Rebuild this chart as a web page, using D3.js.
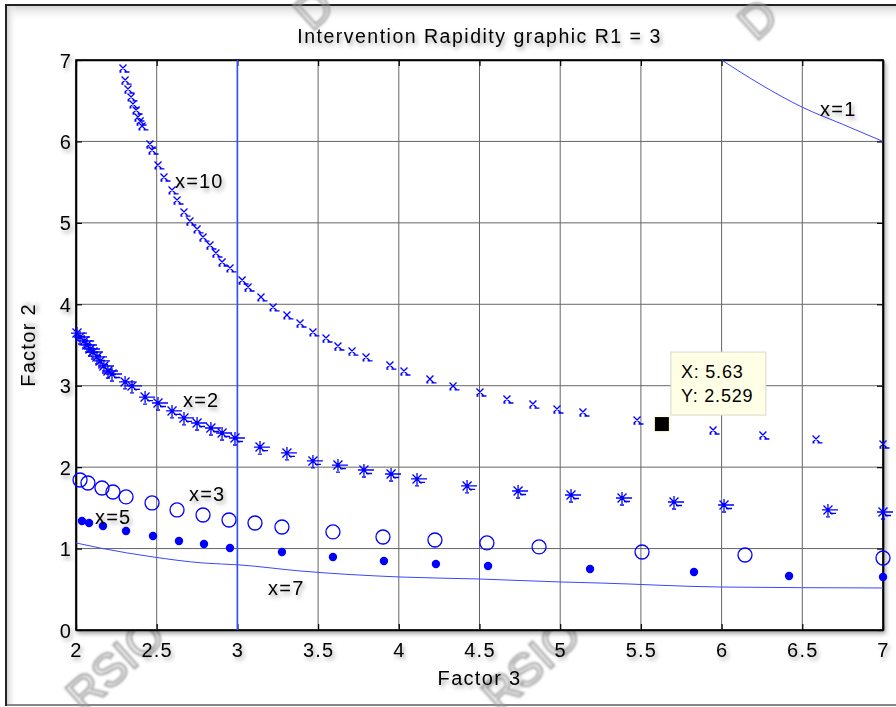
<!DOCTYPE html>
<html><head><meta charset="utf-8">
<script src="https://cdn.jsdelivr.net/npm/d3@7"></script>
<style>body{margin:0;background:#fff}svg{display:block}</style>
</head><body>
<svg id="c" width="896" height="707"></svg>
<script>
// ---------- data ----------
const xTicks = [2, 2.5, 3, 3.5, 4, 4.5, 5, 5.5, 6, 6.5, 7];
const yTicks = [0, 1, 2, 3, 4, 5, 6, 7];
const xTickLabels = ["2","2.5","3","3.5","4","4.5","5","5.5","6","6.5","7"];
const yTickLabels = ["0","1","2","3","4","5","6","7"];

// x=10 (cross markers)
const seriesX10 = [[2.291,6.902],[2.304,6.754],[2.322,6.644],[2.341,6.546],[2.353,6.460],[2.372,6.386],[2.384,6.300],[2.397,6.251],[2.409,6.190],[2.458,5.968],[2.471,5.895],[2.508,5.711],[2.545,5.563],[2.595,5.404],[2.626,5.281],[2.669,5.133],[2.706,5.023],[2.750,4.925],[2.787,4.826],[2.830,4.728],[2.867,4.630],[2.905,4.519],[2.954,4.446],[3.029,4.298],[3.066,4.212],[3.146,4.090],[3.221,3.967],[3.307,3.869],[3.388,3.770],[3.468,3.660],[3.549,3.586],[3.623,3.488],[3.710,3.426],[3.797,3.353],[3.945,3.254],[4.032,3.181],[4.193,3.083],[4.336,2.997],[4.503,2.923],[4.670,2.837],[4.831,2.775],[4.980,2.714],[5.141,2.677],[5.476,2.579],[5.947,2.456],[6.256,2.395],[6.585,2.346],[7.0,2.284]];
// x=2 (asterisk markers)
const seriesX2 = [[2.006,3.647],[2.025,3.598],[2.050,3.549],[2.068,3.500],[2.087,3.451],[2.105,3.414],[2.130,3.353],[2.149,3.304],[2.173,3.242],[2.198,3.181],[2.223,3.144],[2.304,3.046],[2.347,2.997],[2.428,2.861],[2.508,2.788],[2.595,2.690],[2.669,2.604],[2.750,2.542],[2.836,2.481],[2.905,2.419],[2.985,2.358],[3.140,2.247],[3.307,2.174],[3.468,2.076],[3.623,2.026],[3.784,1.965],[3.952,1.916],[4.113,1.855],[4.423,1.769],[4.739,1.707],[5.067,1.658],[5.383,1.621],[5.705,1.572],[6.015,1.535],[6.659,1.474],[7.0,1.449]];
// x=3 (open circles)
const seriesX3 = [[2.025,1.842],[2.074,1.805],[2.161,1.744],[2.229,1.695],[2.310,1.634],[2.471,1.560],[2.626,1.474],[2.787,1.412],[2.948,1.351],[3.109,1.314],[3.276,1.265],[3.592,1.204],[3.902,1.142],[4.224,1.105],[4.546,1.069],[4.869,1.020],[5.507,0.958],[6.145,0.921],[7.0,0.884]];
// x=5 (filled dots)
const seriesX5 = [[2.037,1.339],[2.081,1.314],[2.167,1.277],[2.310,1.216],[2.477,1.154],[2.638,1.093],[2.793,1.056],[2.954,1.007],[3.276,0.958],[3.592,0.897],[3.908,0.847],[4.230,0.811],[4.553,0.786],[5.185,0.749],[5.829,0.712],[6.418,0.663],[7.0,0.651]];
// x=7 (line)
const seriesX7 = [[2.0,1.069],[2.149,1.007],[2.477,0.897],[2.787,0.823],[3.016,0.799],[3.388,0.725],[4.007,0.651],[4.503,0.626],[4.999,0.590],[5.247,0.577],[5.990,0.528],[7.0,0.516]];
// x=1 (line)
const seriesX1 = [[6.0,7.0],[6.25,6.69],[6.5,6.42],[6.75,6.21],[7.0,6.0]];
// vertical line at Factor 3 = 3
const vLine = [[3,0],[3,7]];
// curve labels
const labels = [["x=10",2.613,5.51],["x=2",2.663,2.825],["x=3",2.700,1.670],["x=5",2.118,1.388],["x=7",3.190,0.516],["x=1",6.610,6.40]];
// data tip
const tip = {x:5.63, y:2.529};

// ---------- drawing ----------
const svg = d3.select("#c");
const FONT = "'Liberation Sans', Arial, Helvetica, sans-serif";
const defs = svg.append("defs");
const f = defs.append("filter").attr("id","sh").attr("x","-30%").attr("y","-30%").attr("width","170%").attr("height","180%");
f.append("feDropShadow").attr("dx",2).attr("dy",3).attr("stdDeviation",2).attr("flood-color","#000").attr("flood-opacity",0.35);
const fb = defs.append("filter").attr("id","blur");
fb.append("feGaussianBlur").attr("stdDeviation",0.9);
const gTop = defs.append("linearGradient").attr("id","gt").attr("x1",0).attr("y1",0).attr("x2",0).attr("y2",1);
gTop.append("stop").attr("offset","0").attr("stop-color","#d4d4d4");
gTop.append("stop").attr("offset","1").attr("stop-color","#fff").attr("stop-opacity",0);
const gLeft = defs.append("linearGradient").attr("id","gl").attr("x1",0).attr("y1",0).attr("x2",1).attr("y2",0);
gLeft.append("stop").attr("offset","0").attr("stop-color","#d4d4d4");
gLeft.append("stop").attr("offset","1").attr("stop-color","#fff").attr("stop-opacity",0);

// figure frame
svg.append("rect").attr("x",6).attr("y",5).attr("width",900).attr("height",700)
  .attr("fill","#fff").attr("stroke","#222").attr("stroke-width",2);
svg.append("rect").attr("x",7).attr("y",6).attr("width",889).attr("height",16).attr("fill","url(#gt)");
svg.append("rect").attr("x",7).attr("y",6).attr("width",10).attr("height",698).attr("fill","url(#gl)");
svg.append("line").attr("x1",7).attr("x2",896).attr("y1",705).attr("y2",705).attr("stroke","#aaa").attr("stroke-width",1.5);

// watermark (behind the chart content)
const wm = svg.append("g").attr("filter","url(#blur)").attr("font-family",FONT)
  .attr("font-size",46).attr("fill","none").attr("stroke","#9a9a9a").attr("stroke-width",2.4).attr("opacity",0.8);
[[84,714,"RSIO"],[500,714,"RSIO"],[312,32,"D"],[756,42,"D"]].forEach(d=>{
  wm.append("text").attr("transform",`translate(${d[0]},${d[1]}) rotate(-42)`).text(d[2]);
});

const x = d3.scaleLinear().domain([2,7]).range([76,883]);
const y = d3.scaleLinear().domain([0,7]).range([630,60]);

// plot area
svg.append("rect").attr("x",x(2)).attr("y",y(7)).attr("width",x(7)-x(2)).attr("height",y(0)-y(7))
  .attr("fill","#fff").attr("stroke","#000").attr("stroke-width",1.6).attr("filter","url(#sh)");

// grid
const grid = svg.append("g").attr("stroke","#666").attr("stroke-width",1);
grid.selectAll(".gx").data(xTicks.slice(1,-1)).join("line")
  .attr("x1",d=>x(d)).attr("x2",d=>x(d)).attr("y1",y(0)).attr("y2",y(7));
grid.selectAll(".gy").data(yTicks.slice(1,-1)).join("line")
  .attr("y1",d=>y(d)).attr("y2",d=>y(d)).attr("x1",x(2)).attr("x2",x(7));

// axes with inner ticks
const axB = svg.append("g").attr("transform",`translate(0,${y(0)})`)
  .call(d3.axisBottom(x).tickValues(xTicks).tickSizeInner(-6).tickSizeOuter(0).tickFormat((d,i)=>xTickLabels[i]));
const axT = svg.append("g").attr("transform",`translate(0,${y(7)})`)
  .call(d3.axisTop(x).tickValues(xTicks).tickSizeInner(-6).tickSizeOuter(0).tickFormat(""));
const axL = svg.append("g").attr("transform",`translate(${x(2)},0)`)
  .call(d3.axisLeft(y).tickValues(yTicks).tickSizeInner(-6).tickSizeOuter(0).tickFormat((d,i)=>yTickLabels[i]));
const axR = svg.append("g").attr("transform",`translate(${x(7)},0)`)
  .call(d3.axisRight(y).tickValues(yTicks).tickSizeInner(-6).tickSizeOuter(0).tickFormat(""));
[axB,axT,axL,axR].forEach(a=>{
  a.select(".domain").attr("stroke","#000").attr("stroke-width",1.6);
  a.selectAll(".tick line").attr("stroke","#000").attr("stroke-width",1.2);
  a.selectAll("text").attr("font-family",FONT).attr("font-size",20).attr("fill","#000")
    .attr("letter-spacing","1.2px").attr("filter","url(#sh)");
});
axB.selectAll("text").attr("dy",null).attr("y",null).attr("dominant-baseline","central")
  .attr("transform","translate(0,20)");
axL.selectAll("text").attr("dy",null).attr("x",-4).attr("dominant-baseline","central");

// lines
const line = d3.line().x(d=>x(d[0])).y(d=>y(d[1]));
svg.append("path").attr("d",line(vLine)).attr("stroke","#2f4fff").attr("stroke-width",1.6).attr("fill","none");
svg.append("path").attr("d",line.curve(d3.curveMonotoneX)(seriesX7)).attr("stroke","#3a46ff").attr("stroke-width",1).attr("fill","none");
svg.append("path").attr("d",line.curve(d3.curveMonotoneX)(seriesX1)).attr("stroke","#3a46ff").attr("stroke-width",1).attr("fill","none");

// markers
const BLUE = "#0000ff";
svg.append("g").selectAll("path").data(seriesX10).join("path")
  .attr("transform",d=>`translate(${x(d[0])},${y(d[1])})`)
  .attr("d","M-3.5,-3.5L3.5,3.5M-3.5,3.5L3.5,-3.5M1.5,4h5M-3.5,4h2")
  .attr("stroke",BLUE).attr("stroke-width",1.3).attr("fill","none");
svg.append("g").selectAll("path").data(seriesX2).join("path")
  .attr("transform",d=>`translate(${x(d[0])},${y(d[1])})`)
  .attr("d","M0,-6V6M-6,0H10M-4.5,-4.5L4.5,4.5M-4.5,4.5L4.5,-4.5M2,3.5h6M-2,7h4")
  .attr("stroke",BLUE).attr("stroke-width",1.3).attr("fill","none");
svg.append("g").selectAll("circle").data(seriesX3).join("circle")
  .attr("cx",d=>x(d[0])).attr("cy",d=>y(d[1])).attr("r",7)
  .attr("stroke",BLUE).attr("stroke-width",1.3).attr("fill","none");
svg.append("g").selectAll("circle").data(seriesX5).join("circle")
  .attr("cx",d=>x(d[0])).attr("cy",d=>y(d[1])).attr("r",4.2)
  .attr("fill",BLUE);

// curve labels
svg.append("g").selectAll("text").data(labels).join("text")
  .attr("x",d=>x(d[1])).attr("y",d=>y(d[2])).attr("dominant-baseline","central")
  .attr("font-family",FONT).attr("font-size",20).attr("letter-spacing","1.2px")
  .attr("filter","url(#sh)").text(d=>d[0]);

// title and axis labels
svg.append("text").attr("x",(x(2)+x(7))/2).attr("y",36).attr("text-anchor","middle")
  .attr("dominant-baseline","central").attr("font-family",FONT).attr("font-size",19.5)
  .attr("letter-spacing","1.5px").attr("filter","url(#sh)")
  .text("Intervention Rapidity graphic R1 = 3");
svg.append("text").attr("x",(x(2)+x(7))/2).attr("y",678).attr("text-anchor","middle")
  .attr("dominant-baseline","central").attr("font-family",FONT).attr("font-size",20)
  .attr("letter-spacing","1.3px").attr("filter","url(#sh)").text("Factor 3");
svg.append("text").attr("transform",`translate(28,${(y(0)+y(7))/2}) rotate(-90)`)
  .attr("text-anchor","middle").attr("dominant-baseline","central").attr("font-family",FONT)
  .attr("font-size",20).attr("letter-spacing","1.3px").attr("filter","url(#sh)").text("Factor 2");

// data tip
const tx = x(tip.x), ty = y(tip.y);
svg.append("rect").attr("x",tx+9).attr("y",ty-72).attr("width",95).attr("height",63)
  .attr("fill","#ffffe6").attr("stroke","#d8d8c8").attr("stroke-width",1);
svg.append("text").attr("x",tx+19).attr("y",ty-52).attr("dominant-baseline","central")
  .attr("font-family",FONT).attr("font-size",18).attr("letter-spacing","0.8px").text(`X: ${tip.x}`);
svg.append("text").attr("x",tx+19).attr("y",ty-28).attr("dominant-baseline","central")
  .attr("font-family",FONT).attr("font-size",18).attr("letter-spacing","0.8px").text(`Y: ${tip.y}`);
svg.append("rect").attr("x",tx-9).attr("y",ty-9).attr("width",18).attr("height",18).attr("fill","#ffffe6");
svg.append("rect").attr("x",tx-7).attr("y",ty-7).attr("width",14).attr("height",14).attr("fill","#000");
</script>
</body></html>
